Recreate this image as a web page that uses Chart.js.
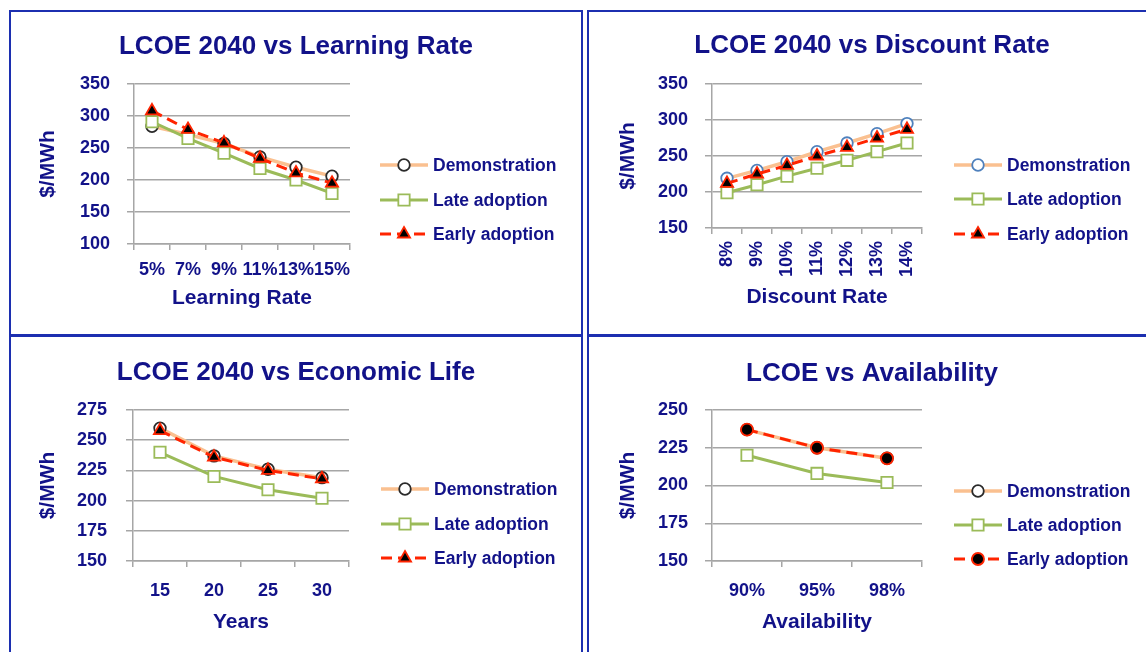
<!DOCTYPE html>
<html>
<head>
<meta charset="utf-8">
<script src="https://cdn.jsdelivr.net/npm/chart.js@4/dist/chart.umd.min.js"></script>
<style>
  html, body { margin: 0; padding: 0; background: #fff; }
  body { width: 1146px; height: 652px; overflow: hidden; position: relative; }
  .panel { position: absolute; box-sizing: border-box; border: 2px solid #1c2fb0; }
  .panel canvas { position: absolute; left: 0; top: 0; }
</style>
</head>
<body>
<div class="panel" style="left:9px;top:10px;width:574px;height:326px"><canvas id="c1" width="570" height="322"></canvas></div>
<div class="panel" style="left:587px;top:10px;width:570px;height:326px"><canvas id="c2" width="566" height="322"></canvas></div>
<div class="panel" style="left:9px;top:335px;width:574px;height:330px"><canvas id="c3" width="570" height="326"></canvas></div>
<div class="panel" style="left:587px;top:335px;width:570px;height:330px"><canvas id="c4" width="566" height="326"></canvas></div>
<script>
// data
const seriesNames = ['Demonstration', 'Late adoption', 'Early adoption'];

const learnLabels = ['5%', '7%', '9%', '11%', '13%', '15%'];
const learnDemo = [284, 271, 257, 236, 220, 206];
const learnLate = [291, 265, 242, 218, 200, 179];
const learnEarly = [308, 279, 258, 234, 211, 195];

const discLabels = ['8%', '9%', '10%', '11%', '12%', '13%', '14%'];
const discDemo = [219, 230, 242, 256, 268, 281, 295];
const discLate = [199, 210, 222, 233, 244, 256, 268];
const discEarly = [212, 225, 237, 250, 262, 275, 287];

const lifeLabels = ['15', '20', '25', '30'];
const lifeDemo = [260, 237, 226, 219];
const lifeLate = [240, 220, 209, 202];
const lifeEarly = [258, 236, 225, 218];

const availLabels = ['90%', '95%', '98%'];
const availDemo = [237, 225, 218];
const availLate = [220, 208, 202];
const availEarly = [237, 225, 218];

const NAVY = '#121289';
const GRID = '#a6a6a6';
const FONT = "'Liberation Sans', Arial, sans-serif";
const TITLE_SIZE = 26, AXIS_SIZE = 21, TICK_SIZE = 18, LEGEND_SIZE = 17.5;

function drawMarker(ctx, style, r, x, y) {
  ctx.beginPath();
  if (style === 'rect') {
    const s = r * Math.SQRT1_2;
    ctx.rect(x - s, y - s, 2 * s, 2 * s);
  } else if (style === 'triangle') {
    ctx.moveTo(x, y - r);
    ctx.lineTo(x + r * 0.866, y + r * 0.5);
    ctx.lineTo(x - r * 0.866, y + r * 0.5);
    ctx.closePath();
  } else {
    ctx.arc(x, y, r, 0, Math.PI * 2);
  }
  ctx.fill();
  ctx.stroke();
}

// legend with line + marker sample, drawn to the right of the plot
const sideLegend = {
  id: 'sideLegend',
  afterDraw(chart, args, opts) {
    const ctx = chart.ctx;
    chart.data.datasets.forEach((ds, i) => {
      const x = opts.x, y = opts.rows[i];
      ctx.save();
      ctx.strokeStyle = ds.borderColor;
      ctx.lineWidth = ds.borderWidth;
      ctx.setLineDash(ds.borderDash || []);
      ctx.beginPath();
      ctx.moveTo(x, y);
      ctx.lineTo(x + 48, y);
      ctx.stroke();
      ctx.setLineDash([]);
      ctx.fillStyle = ds.pointBackgroundColor;
      ctx.strokeStyle = ds.pointBorderColor;
      ctx.lineWidth = ds.pointBorderWidth;
      drawMarker(ctx, ds.pointStyle, ds.pointRadius, x + 24, y);
      ctx.fillStyle = NAVY;
      ctx.font = 'bold ' + LEGEND_SIZE + 'px ' + FONT;
      ctx.textBaseline = 'middle';
      ctx.fillText(ds.label, x + 53, y + 1);
      ctx.restore();
    });
  }
};

function buildPanel(id, o) {
  const canvas = document.getElementById(id);
  const W = canvas.width, H = canvas.height;
  const p = o.plot;
  const titleLh = TITLE_SIZE * 1.2, axLh = AXIS_SIZE * 1.2;
  const xAxisH = o.xTitleY + axLh / 2 + 3 - p.bottom;

  const datasets = [
    {
      label: seriesNames[0], data: o.demo, order: 3,
      borderColor: '#fac090', borderWidth: 3.5,
      pointStyle: 'circle', pointRadius: 5.8,
      pointBackgroundColor: '#ffffff', pointBorderColor: o.demoMarker || '#2a2a2a', pointBorderWidth: 1.8
    },
    {
      label: seriesNames[1], data: o.late, order: 2,
      borderColor: '#9bbb59', borderWidth: 3,
      pointStyle: 'rect', pointRadius: 8,
      pointBackgroundColor: '#ffffff', pointBorderColor: '#9bbb59', pointBorderWidth: 1.8
    },
    {
      label: seriesNames[2], data: o.early, order: 1,
      borderColor: '#ff2400', borderWidth: 3, borderDash: [11, 6],
      pointStyle: o.earlyStyle || 'triangle', pointRadius: o.earlyStyle === 'circle' ? 6 : 7,
      pointBackgroundColor: '#000000', pointBorderColor: '#ff2400', pointBorderWidth: 1.8
    }
  ];
  datasets.forEach(d => { d.fill = false; d.tension = 0; d.pointHoverRadius = d.pointRadius; });

  new Chart(canvas, {
    type: 'line',
    data: { labels: o.labels, datasets: datasets },
    options: {
      responsive: false,
      animation: false,
      events: [],
      layout: { padding: { left: 0, top: 0, right: 0, bottom: H - p.bottom - xAxisH } },
      plugins: {
        legend: { display: false },
        tooltip: { enabled: false },
        title: {
          display: true, text: o.title, color: NAVY,
          font: { family: FONT, size: TITLE_SIZE, weight: 'bold' },
          padding: { top: o.titleY - titleLh / 2, bottom: p.top - o.titleY - titleLh / 2 }
        },
        sideLegend: { x: o.legendX, rows: o.legendRows }
      },
      scales: {
        x: {
          offset: true,
          grid: { offset: true, drawOnChartArea: false, tickLength: 6, color: GRID, lineWidth: 1.5 },
          border: { color: GRID, width: 1.5 },
          ticks: {
            autoSkip: false, minRotation: o.rot || 0, maxRotation: o.rot || 0,
            padding: o.xTickPad, color: NAVY, font: { family: FONT, size: TICK_SIZE, weight: 'bold' }
          },
          title: {
            display: true, text: o.xTitle, color: NAVY,
            font: { family: FONT, size: AXIS_SIZE, weight: 'bold' },
            padding: { top: 0, bottom: p.bottom + xAxisH - o.xTitleY - axLh / 2 }
          },
          afterFit: s => { s.height = xAxisH; }
        },
        y: {
          min: o.yMin, max: o.yMax,
          grid: { color: GRID, lineWidth: 1.5, tickLength: 7 },
          border: { color: GRID, width: 1.5 },
          ticks: { stepSize: o.yStep, padding: o.yTickPad, color: NAVY, font: { family: FONT, size: TICK_SIZE, weight: 'bold' } },
          title: {
            display: true, text: '$/MWh', color: NAVY,
            font: { family: FONT, size: AXIS_SIZE, weight: 'bold' },
            padding: { top: o.yTitleX - axLh / 2, bottom: 0 }
          },
          afterFit: s => { s.width = p.left; }
        },
        // empty right-hand axis that only reserves room for the legend
        side: {
          position: 'right', min: 0, max: 1,
          grid: { display: false }, border: { display: false }, ticks: { display: false },
          afterFit: s => { s.width = W - p.right; }
        }
      }
    },
    plugins: [sideLegend]
  });
}

buildPanel('c1', {
  title: 'LCOE 2040 vs Learning Rate', xTitle: 'Learning Rate',
  labels: learnLabels, demo: learnDemo, late: learnLate, early: learnEarly,
  yMin: 100, yMax: 350, yStep: 50,
  plot: { left: 123, top: 72, right: 339, bottom: 232 },
  titleY: 35, yTitleX: 37, yTickPad: 17, xTickPad: 9, xTitleY: 286,
  legendX: 369, legendRows: [153, 188, 222]
});

buildPanel('c2', {
  title: 'LCOE 2040 vs Discount Rate', xTitle: 'Discount Rate',
  labels: discLabels, demo: discDemo, late: discLate, early: discEarly,
  demoMarker: '#4f81bd',
  yMin: 150, yMax: 350, yStep: 50, rot: 90,
  plot: { left: 123, top: 72, right: 333, bottom: 216 },
  titleY: 34, yTitleX: 39, yTickPad: 17, xTickPad: 7, xTitleY: 285,
  legendX: 365, legendRows: [153, 187, 222]
});

buildPanel('c3', {
  title: 'LCOE 2040 vs Economic Life', xTitle: 'Years',
  labels: lifeLabels, demo: lifeDemo, late: lifeLate, early: lifeEarly,
  yMin: 150, yMax: 275, yStep: 25,
  plot: { left: 122, top: 73, right: 338, bottom: 224 },
  titleY: 36, yTitleX: 37, yTickPad: 19, xTickPad: 13, xTitleY: 285,
  legendX: 370, legendRows: [152, 187, 221]
});

buildPanel('c4', {
  title: 'LCOE vs Availability', xTitle: 'Availability',
  labels: availLabels, demo: availDemo, late: availLate, early: availEarly,
  earlyStyle: 'circle',
  yMin: 150, yMax: 250, yStep: 25,
  plot: { left: 123, top: 73, right: 333, bottom: 224 },
  titleY: 37, yTitleX: 39, yTickPad: 17, xTickPad: 13, xTitleY: 285,
  legendX: 365, legendRows: [154, 188, 222]
});
</script>
</body>
</html>
